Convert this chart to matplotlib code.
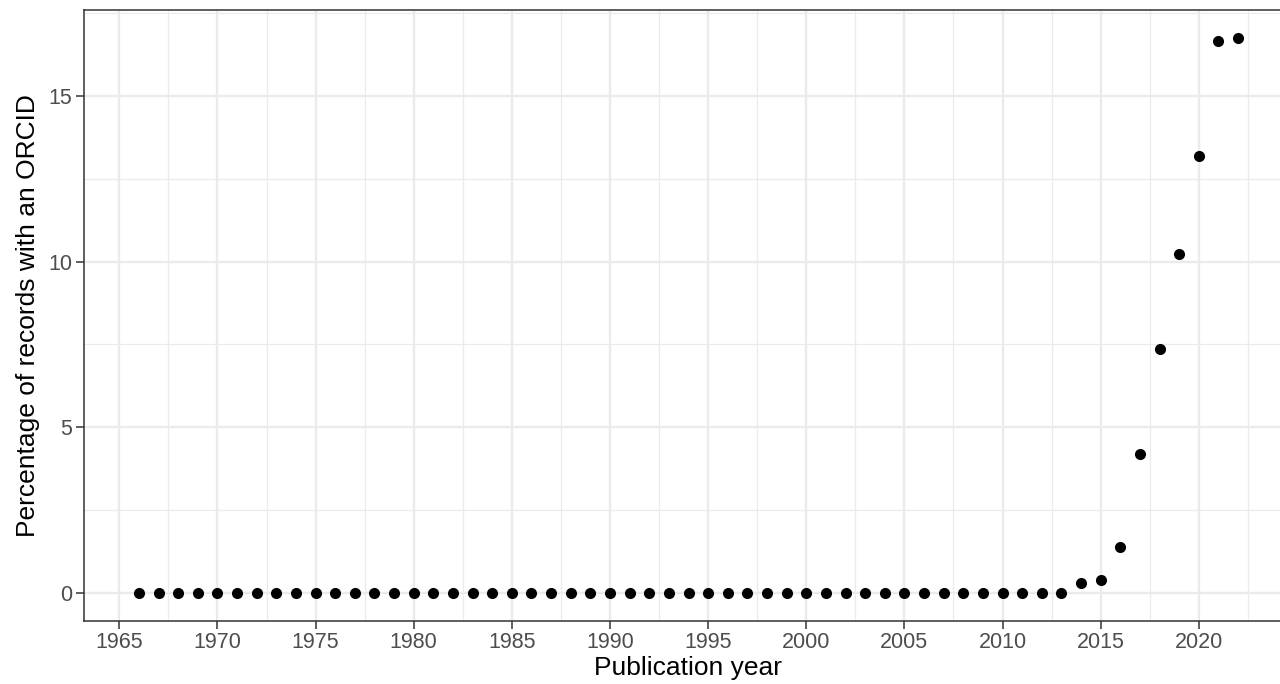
import numpy as np
import matplotlib
matplotlib.use("Agg")
import matplotlib.pyplot as plt
from matplotlib.ticker import MultipleLocator

# data
years = list(range(1966, 2023))
pct_late = [0.28, 0.40, 1.37, 4.20, 7.35, 10.24, 13.18, 16.65, 16.75]  # 2014..2022
pct_orcid = [0.0] * (len(years) - len(pct_late)) + pct_late

plt.rcParams['font.family'] = ['Liberation Sans', 'DejaVu Sans']

fig = plt.figure(figsize=(12.8, 6.84), dpi=100)
# panel runs a little past the right edge like in the reference
ax = fig.add_axes([84 / 1280, (684 - 620.5) / 684, 1209 / 1280, 610.2 / 684])

ax.scatter(years, pct_orcid, s=64, color='black', zorder=3, linewidths=0)

xmin, xmax = min(years), max(years)
ymin, ymax = 0, max(pct_orcid)
ax.set_xlim(xmin - 0.05 * (xmax - xmin), xmax + 0.05 * (xmax - xmin))
ax.set_ylim(ymin - 0.05 * (ymax - ymin), ymax + 0.05 * (ymax - ymin))

ax.xaxis.set_major_locator(MultipleLocator(5))
ax.xaxis.set_minor_locator(MultipleLocator(2.5))
ax.yaxis.set_major_locator(MultipleLocator(5))
ax.yaxis.set_minor_locator(MultipleLocator(2.5))

ax.grid(which='major', color='#EBEBEB', linewidth=1.7, zorder=0)
ax.grid(which='minor', color='#EBEBEB', linewidth=0.9, zorder=0)
ax.set_axisbelow(True)

for sp in ax.spines.values():
    sp.set_color('#333333')
    sp.set_linewidth(1.1)

ax.tick_params(which='major', length=5.5, width=1.1, color='#333333',
               labelsize=15.5, labelcolor='#4D4D4D', pad=3)
ax.tick_params(which='minor', length=0)

ax.set_xlabel('Publication year', fontsize=19, color='black', labelpad=2)
ax.set_ylabel('Percentage of records with an ORCID', fontsize=19, color='black', labelpad=6)

fig.savefig('out.png', dpi=100)
